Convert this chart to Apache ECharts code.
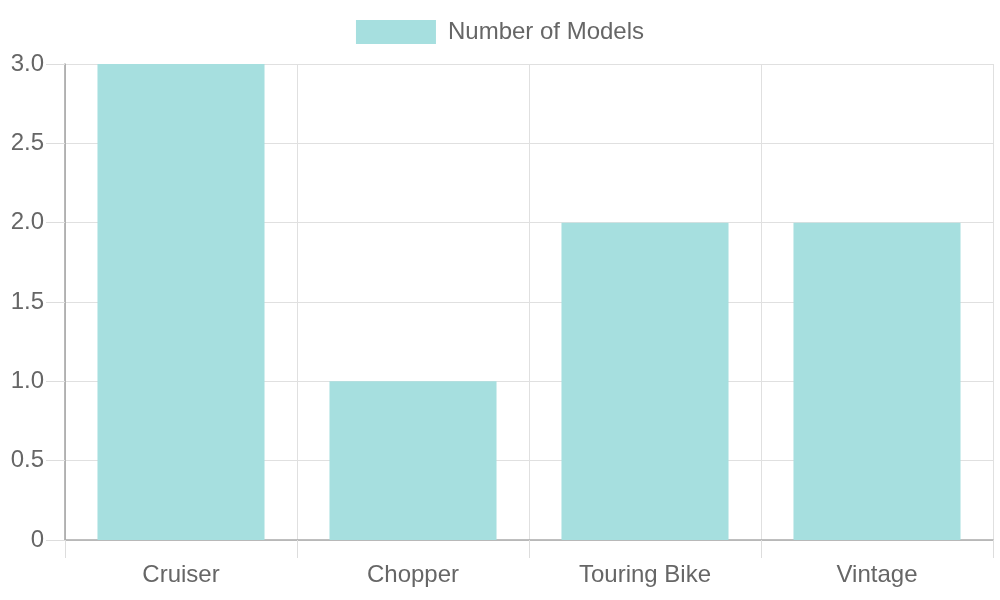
<!DOCTYPE html>
<html>
<head>
    <meta charset="utf-8">
    <title>Number of Models</title>
    <script src="https://cdn.jsdelivr.net/npm/echarts@6/dist/echarts.min.js"></script>
    <style>
        html, body { margin: 0; padding: 0; background: #fff; }
        #chartmain { width: 1000px; height: 600px; }
    </style>
</head>
<body>
<div id="chartmain"></div>
<script type="text/javascript">
    // 数据
    var categories = ['Cruiser', 'Chopper', 'Touring Bike', 'Vintage'];
    var modelCounts = [3, 1, 2, 2];
    var seriesName = 'Number of Models';

    var myChart = echarts.init(document.getElementById('chartmain'));
    var font = 'Liberation Sans, Arial, sans-serif';

    var option = {
        animation: false,
        textStyle: { fontFamily: font },
        legend: {
            top: 15,
            left: 'center',
            icon: 'rect',
            itemWidth: 80,
            itemHeight: 24,
            itemStyle: { borderWidth: 0 },
            textStyle: { fontSize: 24, lineHeight: 24, color: '#666', fontFamily: font, padding: [0, 0, 0, 7] },
            data: [seriesName]
        },
        grid: { left: 65, right: 7, top: 64, bottom: 60 },
        xAxis: {
            type: 'category',
            data: categories,
            boundaryGap: true,
            axisLine: { lineStyle: { color: '#aaa', width: 1.5 } },
            axisTick: { show: true, length: 18, lineStyle: { color: '#ddd' } },
            axisLabel: { fontSize: 24, color: '#666', margin: 23, fontFamily: font },
            splitLine: { show: true, lineStyle: { color: '#e0e0e0' } }
        },
        yAxis: {
            type: 'value',
            min: 0,
            max: 3,
            interval: 0.5,
            axisLine: { show: true, lineStyle: { color: '#a0a0a0', width: 1.5 } },
            axisTick: { show: true, length: 19, lineStyle: { color: '#ddd' } },
            axisLabel: {
                fontSize: 24, color: '#666', margin: 21, fontFamily: font,
                formatter: function (v) { return v === 0 ? '0' : v.toFixed(1); }
            },
            splitLine: { show: true, lineStyle: { color: '#e0e0e0' } }
        },
        series: [{
            name: seriesName,
            type: 'bar',
            data: modelCounts,
            barWidth: '72%',
            itemStyle: { color: '#a6dfdf' }
        }]
    };
    myChart.setOption(option);
</script>
</body>
</html>
